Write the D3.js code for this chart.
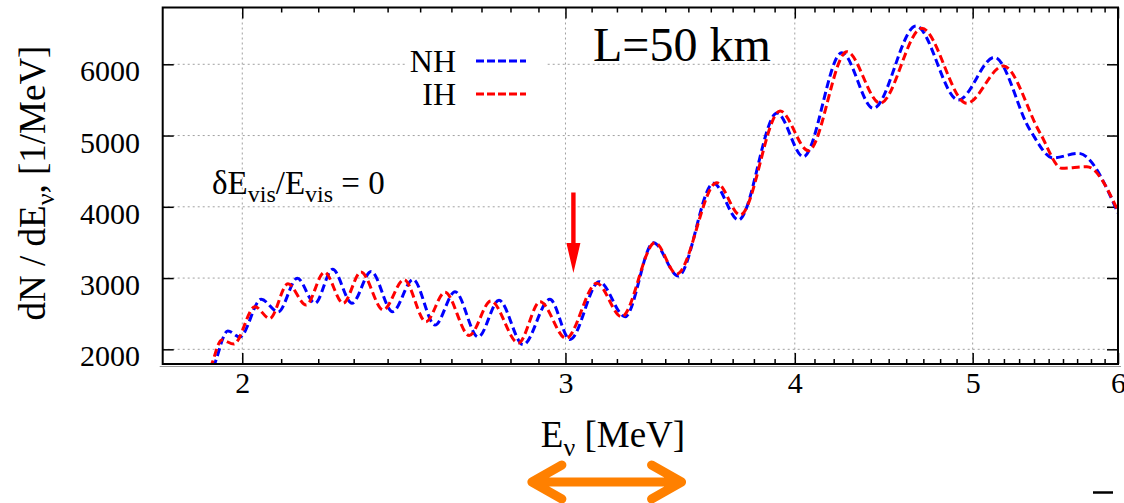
<!DOCTYPE html>
<html>
<head>
<meta charset="utf-8">
<script src="https://cdn.jsdelivr.net/npm/d3@7"></script>
<style>
  body { margin: 0; background: #fff; }
  svg { display: block; }
  text { font-family: "Liberation Serif", "Times New Roman", serif; fill: #000; }
</style>
</head>
<body>
<div id="chart"></div>
<script>
// Reactor neutrino spectrum at L=50 km, normal vs inverted hierarchy

// NH curve (blue), energy in MeV and dN/dE in 1/MeV
var nhEnergy = [1.915, 1.929, 1.964, 1.994, 2.048, 2.092, 2.143, 2.191, 2.240, 2.295,
                2.351, 2.415, 2.478, 2.547, 2.612, 2.689, 2.760, 2.845, 2.942, 3.017,
                3.130, 3.233, 3.350, 3.456, 3.612, 3.727, 3.912, 4.043, 4.243, 4.414,
                4.657, 4.911, 5.138, 5.373, 5.531, 5.709, 6.0];
var nhRate = [1600, 1756, 2257, 2173, 2703, 2524, 2997, 2646, 3123, 2646,
              3092, 2528, 2980, 2341, 2808, 2173, 2688, 2065, 2702, 2138,
              2949, 2458, 3496, 3029, 4330, 3815, 5316, 4703, 6163, 5382,
              6537, 5499, 6098, 5078, 4685, 4751, 3913];

// IH curve (red)
var ihEnergy = [1.905, 1.922, 1.949, 1.979, 2.032, 2.070, 2.118, 2.167, 2.217, 2.270,
                2.321, 2.387, 2.450, 2.518, 2.579, 2.659, 2.732, 2.828, 2.906, 3.002,
                3.120, 3.219, 3.357, 3.449, 3.627, 3.735, 3.927, 4.069, 4.270, 4.452,
                4.691, 4.963, 5.196, 5.441, 5.592, 5.770, 6.0];
var ihRate = [1600, 1756, 2131, 2074, 2598, 2432, 2919, 2622, 3082, 2646,
              3085, 2552, 2978, 2387, 2801, 2194, 2678, 2088, 2668, 2154,
              2926, 2458, 3496, 3057, 4338, 3885, 5345, 4787, 6177, 5453,
              6505, 5453, 5976, 5036, 4540, 4563, 3940];

// axis ticks
var xMajor = [2, 3, 4, 5, 6];
var xMinor = [2.1, 2.2, 2.3, 2.4, 2.5, 2.6, 2.7, 2.8, 2.9,
              3.1, 3.2, 3.3, 3.4, 3.5, 3.6, 3.7, 3.8, 3.9,
              4.1, 4.2, 4.3, 4.4, 4.5, 4.6, 4.7, 4.8, 4.9,
              5.1, 5.2, 5.3, 5.4, 5.5, 5.6, 5.7, 5.8, 5.9];
var xGrid = [2, 3, 4, 5];
var yMajor = [2000, 3000, 4000, 5000, 6000];

// annotations: red arrow (energy, from, to) and orange range (MeV)
var arrowMark = {energy: 3.03, from: 4200, to: 3070};
var orangeRange = [2.86, 3.49];

var series = [
    {name: "NH", color: "#0000ff", data: d3.zip(nhEnergy, nhRate)},
    {name: "IH", color: "#ff0000", data: d3.zip(ihEnergy, ihRate)}
];

var serif = "'Liberation Serif', 'Times New Roman', serif";

// Set margins, height, width
var W = 1124, H = 503;
var margin = {top: 7.5, right: 6, bottom: 139, left: 162.7};
var width = W - margin.left - margin.right;
var height = H - margin.top - margin.bottom;

var svg = d3.select("#chart").append("svg")
    .attr("width", W)
    .attr("height", H);

var g = svg.append("g")
    .attr("transform", "translate(" + margin.left + "," + margin.top + ")");

var x = d3.scaleLog()
    .domain([1.81, 6])
    .range([0, width]);

var y = d3.scaleLinear()
    .domain([1794, 6797])
    .range([height, 0]);

// Grid
g.selectAll(".xgrid").data(xGrid).enter().append("line")
    .attr("x1", d => x(d)).attr("x2", d => x(d))
    .attr("y1", 0).attr("y2", height)
    .attr("stroke", "#a0a0a0").attr("stroke-width", 1)
    .attr("stroke-dasharray", "2,3");

g.selectAll(".ygrid").data(yMajor).enter().append("line")
    .attr("x1", 0).attr("x2", width)
    .attr("y1", d => y(d)).attr("y2", d => y(d))
    .attr("stroke", "#a0a0a0").attr("stroke-width", 1)
    .attr("stroke-dasharray", "2,3");

// Axes (ticks pointing inwards)
var xAxis = g.append("g")
    .attr("transform", "translate(0," + height + ")")
    .call(d3.axisBottom(x).tickValues(xMajor).tickFormat(d3.format("d"))
        .tickSize(-11).tickPadding(7.5));
xAxis.attr("font-family", serif).attr("font-size", 30);

g.append("g")
    .attr("transform", "translate(0," + height + ")")
    .call(d3.axisBottom(x).tickValues(xMinor).tickFormat("").tickSize(-5));

g.append("g")
    .call(d3.axisTop(x).tickValues(xMajor).tickFormat("").tickSize(-11));
g.append("g")
    .call(d3.axisTop(x).tickValues(xMinor).tickFormat("").tickSize(-5));

var yAxis = g.append("g")
    .call(d3.axisLeft(y).tickValues(yMajor).tickFormat(d3.format("d"))
        .tickSize(-11).tickPadding(22.7));
yAxis.attr("font-family", serif).attr("font-size", 30);
yAxis.selectAll("text").attr("dy", "0.55em");

g.append("g")
    .attr("transform", "translate(" + width + ",0)")
    .call(d3.axisRight(y).tickValues(yMajor).tickFormat("").tickSize(-11));

g.selectAll(".domain").remove();
g.selectAll(".tick line").attr("stroke", "#000").attr("stroke-width", 1.5);

// Curves
g.append("clipPath").attr("id", "plotclip")
    .append("rect").attr("width", width).attr("height", height);

var line = d3.line()
    .x(d => x(d[0]))
    .y(d => y(d[1]))
    .curve(d3.curveMonotoneX);

g.append("g").attr("clip-path", "url(#plotclip)")
    .selectAll("path").data(series).enter().append("path")
    .attr("d", d => line(d.data))
    .attr("fill", "none")
    .attr("stroke", d => d.color)
    .attr("stroke-width", 3)
    .attr("stroke-dasharray", "8,4");

// Frame
g.append("rect")
    .attr("width", width).attr("height", height)
    .attr("fill", "none").attr("stroke", "#000").attr("stroke-width", 2);

svg.append("line")
    .attr("x1", margin.left - 3).attr("x2", margin.left + width + 3)
    .attr("y1", margin.top + height + 2.5).attr("y2", margin.top + height + 2.5)
    .attr("stroke", "#999").attr("stroke-width", 1);

// Legend
var legend = g.append("g");
legend.append("rect")
    .attr("x", 405 - margin.left).attr("y", 40 - margin.top)
    .attr("width", 140).attr("height", 72)
    .attr("fill", "#fff");

series.forEach(function (s, i) {
    var row = legend.append("g")
        .attr("transform", "translate(" + (456 - margin.left) + "," + (72 + i * 33 - margin.top) + ")");
    row.append("text")
        .attr("text-anchor", "end")
        .attr("font-size", 32)
        .text(s.name);
    row.append("line")
        .attr("x1", 20).attr("x2", 70)
        .attr("y1", -11).attr("y2", -11)
        .attr("stroke", s.color).attr("stroke-width", 3)
        .attr("stroke-dasharray", "8,3");
});

// Title inside plot
g.append("text")
    .attr("x", 593 - margin.left).attr("y", 61 - margin.top)
    .attr("font-size", 48)
    .text("L=50 km");

// Resolution note
var note = g.append("text")
    .attr("x", 212 - margin.left).attr("y", 194 - margin.top)
    .attr("font-size", 33);
note.append("tspan").text("\u03b4E");
note.append("tspan").attr("dy", 8).attr("font-size", 24).text("vis");
note.append("tspan").attr("dy", -8).text("/E");
note.append("tspan").attr("dy", 8).attr("font-size", 24).text("vis");
note.append("tspan").attr("dy", -8).text(" = 0");

// Red arrow
var ax = x(arrowMark.energy), ay0 = y(arrowMark.from), ay1 = y(arrowMark.to);
g.append("path")
    .attr("d", "M" + (ax - 2.2) + "," + ay0 + "V" + (ay1 - 30) + "H" + (ax - 7) +
        "L" + ax + "," + ay1 + "L" + (ax + 7) + "," + (ay1 - 30) +
        "H" + (ax + 2.2) + "V" + ay0 + "Z")
    .attr("fill", "#ff0000");

// Axis titles
var ylab = svg.append("text")
    .attr("transform", "translate(45," + 183 + ") rotate(-90)")
    .attr("text-anchor", "middle")
    .attr("font-size", 37);
ylab.append("tspan").text("dN / dE");
ylab.append("tspan").attr("dy", 9).attr("font-size", 26).text("\u03bd");
ylab.append("tspan").attr("dy", -9).text(", [1/MeV]");

var xlab = svg.append("text")
    .attr("x", 613).attr("y", 447)
    .attr("text-anchor", "middle")
    .attr("font-size", 37);
xlab.append("tspan").text("E");
xlab.append("tspan").attr("dy", 9).attr("font-size", 26).text("\u03bd");
xlab.append("tspan").attr("dy", -9).text(" [MeV]");

// Orange double arrow under the axis title
var ox0 = margin.left + x(orangeRange[0]) + 4.5;
var ox1 = margin.left + x(orangeRange[1]) - 4.5;
var oy = 482;
svg.append("path")
    .attr("d", "M" + (ox0 + 30) + "," + (oy - 17) + "L" + ox0 + "," + oy + "L" + (ox0 + 30) + "," + (oy + 17) +
        "M" + ox0 + "," + oy + "H" + ox1 +
        "M" + (ox1 - 30) + "," + (oy - 17) + "L" + ox1 + "," + oy + "L" + (ox1 - 30) + "," + (oy + 17))
    .attr("fill", "none")
    .attr("stroke", "#ff8000")
    .attr("stroke-width", 9)
    .attr("stroke-linecap", "round")
    .attr("stroke-linejoin", "round");

// small mark in the bottom right corner
svg.append("line")
    .attr("x1", 1093).attr("x2", 1113)
    .attr("y1", 492.5).attr("y2", 492.5)
    .attr("stroke", "#000").attr("stroke-width", 2.5);

// make sure every text uses the serif face
svg.selectAll("text").style("font-family", serif);
</script>
</body>
</html>
